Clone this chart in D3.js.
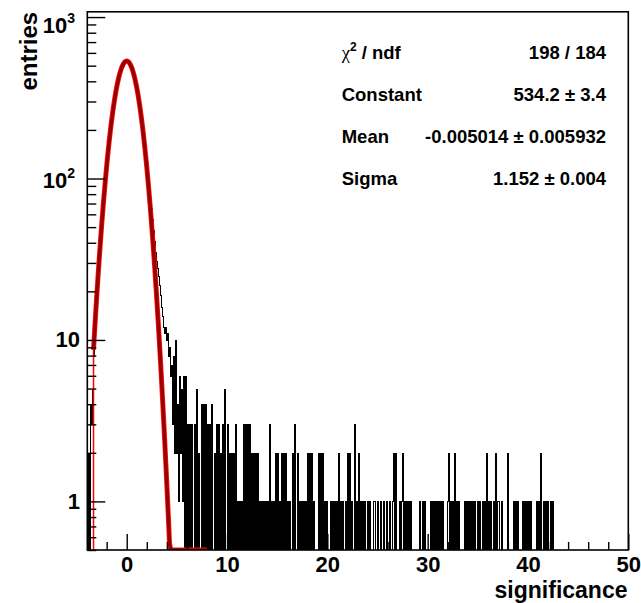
<!DOCTYPE html>
<html>
<head>
<meta charset="utf-8">
<script src="https://cdn.jsdelivr.net/npm/d3@7"></script>
<style>
  body { margin: 0; background: #fff; }
  svg { display: block; font-family: "Liberation Sans", Arial, sans-serif; font-weight: bold; }
</style>
</head>
<body>
<script>
// histogram binning (0.1 wide bins starting at -3.9)
var binLo = -3.9,
    binWidth = 0.1;

// entries per bin, -3.9 .. 4.4 (gaussian core)
var coreCounts = [
  2, 0, 4, 3, 5, 8, 9, 12, 15, 18,
  24, 28, 35, 42, 51, 60, 74, 86, 102, 118,
  138, 156, 181, 202, 230, 254, 284, 309, 340, 365,
  395, 418, 446, 465, 488, 501, 518, 525, 533,
  535, 531, 524, 515, 503, 484, 467, 442, 420, 392,
  367, 337, 311, 282, 256, 228, 204, 179, 158, 137,
  119, 101, 88, 75, 66, 56, 48, 41, 35, 31,
  28, 25, 22, 19, 16, 14, 12, 11, 12, 10,
  11, 8, 9, 6, 7
];

// entries per bin, 4.5 .. 42.9 (tail)
var tailCounts = [
  3, 8, 2, 10, 2,
  4, 1, 6, 2, 5, 1, 6, 0, 6, 0,   // 5
  3, 0, 3, 0, 3, 0, 0, 3, 0, 5,   // 6
  0, 2, 0, 0, 4, 0, 4, 0, 4, 0,   // 7
  3, 0, 3, 0, 4, 0, 0, 2, 0, 3,   // 8
  0, 3, 0, 2, 0, 3, 0, 5, 0, 0,   // 9
  3, 0, 2, 0, 2, 0, 2, 0, 3, 0,   // 10
  1, 0, 1, 0, 1, 0, 3, 0, 3, 0,   // 11
  3, 0, 3, 0, 2, 0, 2, 0, 2, 0,   // 12
  2, 0, 1, 0, 1, 0, 1, 0, 1, 0,   // 13
  1, 0, 3, 0, 1, 0, 1, 0, 2, 0,   // 14
  2, 0, 1, 0, 2, 0, 2, 0, 2, 0,   // 15
  1, 0, 1, 0, 0, 2, 0, 3, 0, 0,   // 16
  2, 0, 1, 0, 1, 0, 1, 0, 1, 0,   // 17
  2, 0, 2, 0, 2, 0, 1, 0, 0, 0,   // 18
  0, 2, 0, 2, 0, 2, 0, 1, 0, 1,   // 19
  0, 0, 0, 1, 0, 1, 0, 1, 0, 1,   // 20
  0, 2, 0, 1, 0, 1, 0, 0, 1, 0,   // 21
  2, 0, 2, 0, 1, 0, 0, 3, 0, 1,   // 22
  0, 2, 0, 1, 0, 1, 0, 1, 0, 0,   // 23
  1, 0, 1, 0, 0, 0, 1, 0, 0, 1,   // 24
  0, 0, 1, 0, 0, 1, 0, 0, 1, 0,   // 25
  0, 1, 0, 0, 1, 2, 0, 2, 0, 0,   // 26
  0, 1, 0, 1, 2, 0, 1, 0, 1, 0,   // 27
  1, 0, 1, 0, 0, 0, 0, 0, 0, 0,   // 28
  0, 1, 0, 0, 1, 0, 1, 0, 0, 0,   // 29
  0, 0, 1, 0, 1, 0, 1, 0, 1, 0,   // 30
  1, 0, 1, 0, 1, 0, 0, 0, 0, 1,   // 31
  2, 0, 1, 0, 1, 0, 2, 0, 1, 0,   // 32
  1, 0, 0, 0, 0, 0, 1, 0, 1, 0,   // 33
  1, 0, 1, 0, 1, 0, 1, 0, 0, 1,   // 34
  0, 1, 0, 0, 1, 0, 1, 0, 2, 0,   // 35
  1, 0, 1, 0, 0, 1, 0, 2, 0, 1,   // 36
  1, 0, 0, 1, 0, 0, 0, 0, 0, 2,   // 37
  0, 0, 0, 0, 0, 1, 0, 1, 0, 1,   // 38
  0, 0, 0, 0, 1, 0, 1, 0, 1, 0,   // 39
  1, 0, 1, 0, 0, 0, 0, 0, 1, 0,   // 40
  1, 0, 2, 0, 0, 1, 0, 1, 0, 1,   // 41
  0, 0, 1, 0, 1, 0, 0, 0, 0, 0    // 42
];

// gaussian fit result
var fitConstant = 534.2,
    fitMean = -0.005014,
    fitSigma = 1.152;
var fitRange = [-3.31, 8.0];
var fitNpx = 100;

var xDomain = [-3.93, 50],
    yDomain = [0.5, 1078];
var xTicks = [0, 10, 20, 30, 40, 50];
var yTicks = [1, 10, 100, 1000];
var yTickLabels = [["1", ""], ["10", ""], ["10", "2"], ["10", "3"]];

var statNames = ["Constant", "Mean", "Sigma"];
var statValues = ["198 / 184", "534.2 \u00b1 3.4", "-0.005014 \u00b1 0.005932", "1.152 \u00b1 0.004"];

// ---------------------------------------------------------------

var W = 641, H = 603;
var frame = {left: 87.3, right: 628.3, top: 11.8, bottom: 550};

var x = d3.scaleLinear().domain(xDomain).range([frame.left, frame.right]);
var y = d3.scaleLog().domain(yDomain).range([frame.bottom, frame.top]);

var svg = d3.select("body").append("svg")
    .attr("width", W)
    .attr("height", H);

svg.append("rect").attr("width", W).attr("height", H).attr("fill", "#fff");

svg.append("clipPath").attr("id", "plotclip")
  .append("rect")
    .attr("x", frame.left).attr("y", frame.top)
    .attr("width", frame.right - frame.left)
    .attr("height", frame.bottom - frame.top);

function yc(v) { return y(Math.max(v, yDomain[0])); }
// snap to pixel centres so 1px strokes land on whole pixels
function snap(p) { return Math.round(p) + 0.5; }

// histogram outline
var counts = coreCounts.concat(tailCounts);
var pts = [[binLo, 0]];
counts.forEach(function (v, i) { pts.push([binLo + i * binWidth, v]); });
pts.push([binLo + counts.length * binWidth, 0]);
pts.push([xDomain[1], 0]);

svg.append("path")
    .attr("clip-path", "url(#plotclip)")
    .attr("d", d3.line()
        .x(function (d) { return snap(x(d[0])); })
        .y(function (d) { return snap(yc(d[1])); })
        .curve(d3.curveStepAfter)(pts))
    .attr("fill", "none")
    .attr("stroke", "#000")
    .attr("stroke-width", 1)
    .attr("shape-rendering", "crispEdges");

// fit function
function gaus(t) {
  var z = (t - fitMean) / fitSigma;
  return fitConstant * Math.exp(-0.5 * z * z);
}
var fitPts = d3.range(fitNpx + 1).map(function (i) {
  var t = fitRange[0] + i * (fitRange[1] - fitRange[0]) / fitNpx;
  return [t, gaus(t)];
});
var fitLine = d3.line()
    .x(function (d) { return x(d[0]); })
    .y(function (d) { return yc(d[1]); });

var fitG = svg.append("g").attr("clip-path", "url(#plotclip)");
fitG.append("line")
    .attr("x1", x(fitRange[0])).attr("x2", x(fitRange[0]))
    .attr("y1", yc(0)).attr("y2", yc(gaus(fitRange[0])))
    .attr("stroke", "#ff0000").attr("stroke-width", 1.5);
fitG.append("path")
    .attr("d", fitLine(fitPts))
    .attr("fill", "none")
    .attr("stroke", "#ff1010")
    .attr("stroke-width", 5)
    .attr("stroke-linejoin", "round");
fitG.append("path")
    .attr("d", fitLine(fitPts))
    .attr("fill", "none")
    .attr("stroke", "#9a0000")
    .attr("stroke-width", 3.4)
    .attr("stroke-linejoin", "round");

// axes (ticks inside the frame, ROOT style)
var xMinor = d3.range(-2, 50, 2).filter(function (d) { return d % 10 !== 0; });
var yMinor = [];
[0.1, 1, 10, 100].forEach(function (dec) {
  d3.range(2, 10).forEach(function (k) {
    var v = k * dec;
    if (v >= yDomain[0] && v <= yDomain[1]) yMinor.push(v);
  });
});

function styleAxis(g) {
  g.select(".domain").remove();
  g.selectAll(".tick line").attr("stroke", "#000").attr("stroke-width", 1.4);
}

svg.append("g")
    .attr("transform", "translate(0," + frame.bottom + ")")
    .call(d3.axisBottom(x).tickValues(xTicks).tickSize(-16).tickPadding(6.8).tickFormat(d3.format("d")))
    .call(styleAxis)
    .selectAll("text")
      .attr("fill", "#000")
      .style("font-size", "22px")
      .style("font-family", "Liberation Sans, Arial, sans-serif")
      .style("font-weight", "bold");

svg.append("g")
    .attr("transform", "translate(0," + frame.bottom + ")")
    .call(d3.axisBottom(x).tickValues(xMinor).tickSize(-8).tickFormat(""))
    .call(styleAxis);

svg.append("g")
    .attr("transform", "translate(" + frame.left + ",0)")
    .call(d3.axisLeft(y).tickValues(yTicks).tickSize(-18).tickFormat(""))
    .call(styleAxis);

svg.append("g")
    .attr("transform", "translate(" + frame.left + ",0)")
    .call(d3.axisLeft(y).tickValues(yMinor).tickSize(-9).tickFormat(""))
    .call(styleAxis);

// y labels, 10^n written with a superscript
yTicks.forEach(function (v, i) {
  var lab = yTickLabels[i];
  var hasSup = lab[1] !== "";
  var base = hasSup ? Math.max(y(v) + 9, frame.top + 21.5) : y(v) + 7.5;
  var t = svg.append("text")
      .attr("x", hasSup ? 75 : 80)
      .attr("y", base)
      .attr("text-anchor", "end")
      .style("font-size", "22px");
  t.append("tspan").text(lab[0]);
  if (hasSup) {
    t.append("tspan").attr("dy", -10).style("font-size", "14px").text(lab[1]);
  }
});

// frame
svg.append("rect")
    .attr("x", frame.left).attr("y", frame.top)
    .attr("width", frame.right - frame.left)
    .attr("height", frame.bottom - frame.top)
    .attr("fill", "none")
    .attr("stroke", "#000")
    .attr("stroke-width", 1.6);

// axis titles
svg.append("text")
    .attr("transform", "translate(36.5," + frame.top + ") rotate(-90)")
    .attr("text-anchor", "end")
    .style("font-size", "24px")
    .text("entries");

svg.append("text")
    .attr("x", 627.5)
    .attr("y", 597.8)
    .attr("text-anchor", "end")
    .style("font-size", "23px")
    .text("significance");

// fit statistics
var statX = 341.7, statRight = 606, statY0 = 58.5, statDy = 42.2;
var chi = svg.append("text")
    .attr("x", statX).attr("y", statY0)
    .style("font-size", "18.5px");
chi.append("tspan").style("font-weight", "normal").style("font-family", "Liberation Serif, serif").text("\u03c7");
chi.append("tspan").attr("dy", -8).style("font-size", "12px").text("2");
chi.append("tspan").attr("dy", 8).text(" / ndf");

statNames.forEach(function (s, i) {
  svg.append("text")
      .attr("x", statX).attr("y", statY0 + (i + 1) * statDy)
      .style("font-size", "18.5px")
      .text(s);
});
statValues.forEach(function (s, i) {
  svg.append("text")
      .attr("x", statRight).attr("y", statY0 + i * statDy)
      .attr("text-anchor", "end")
      .style("font-size", "18.5px")
      .text(s);
});
</script>
</body>
</html>
